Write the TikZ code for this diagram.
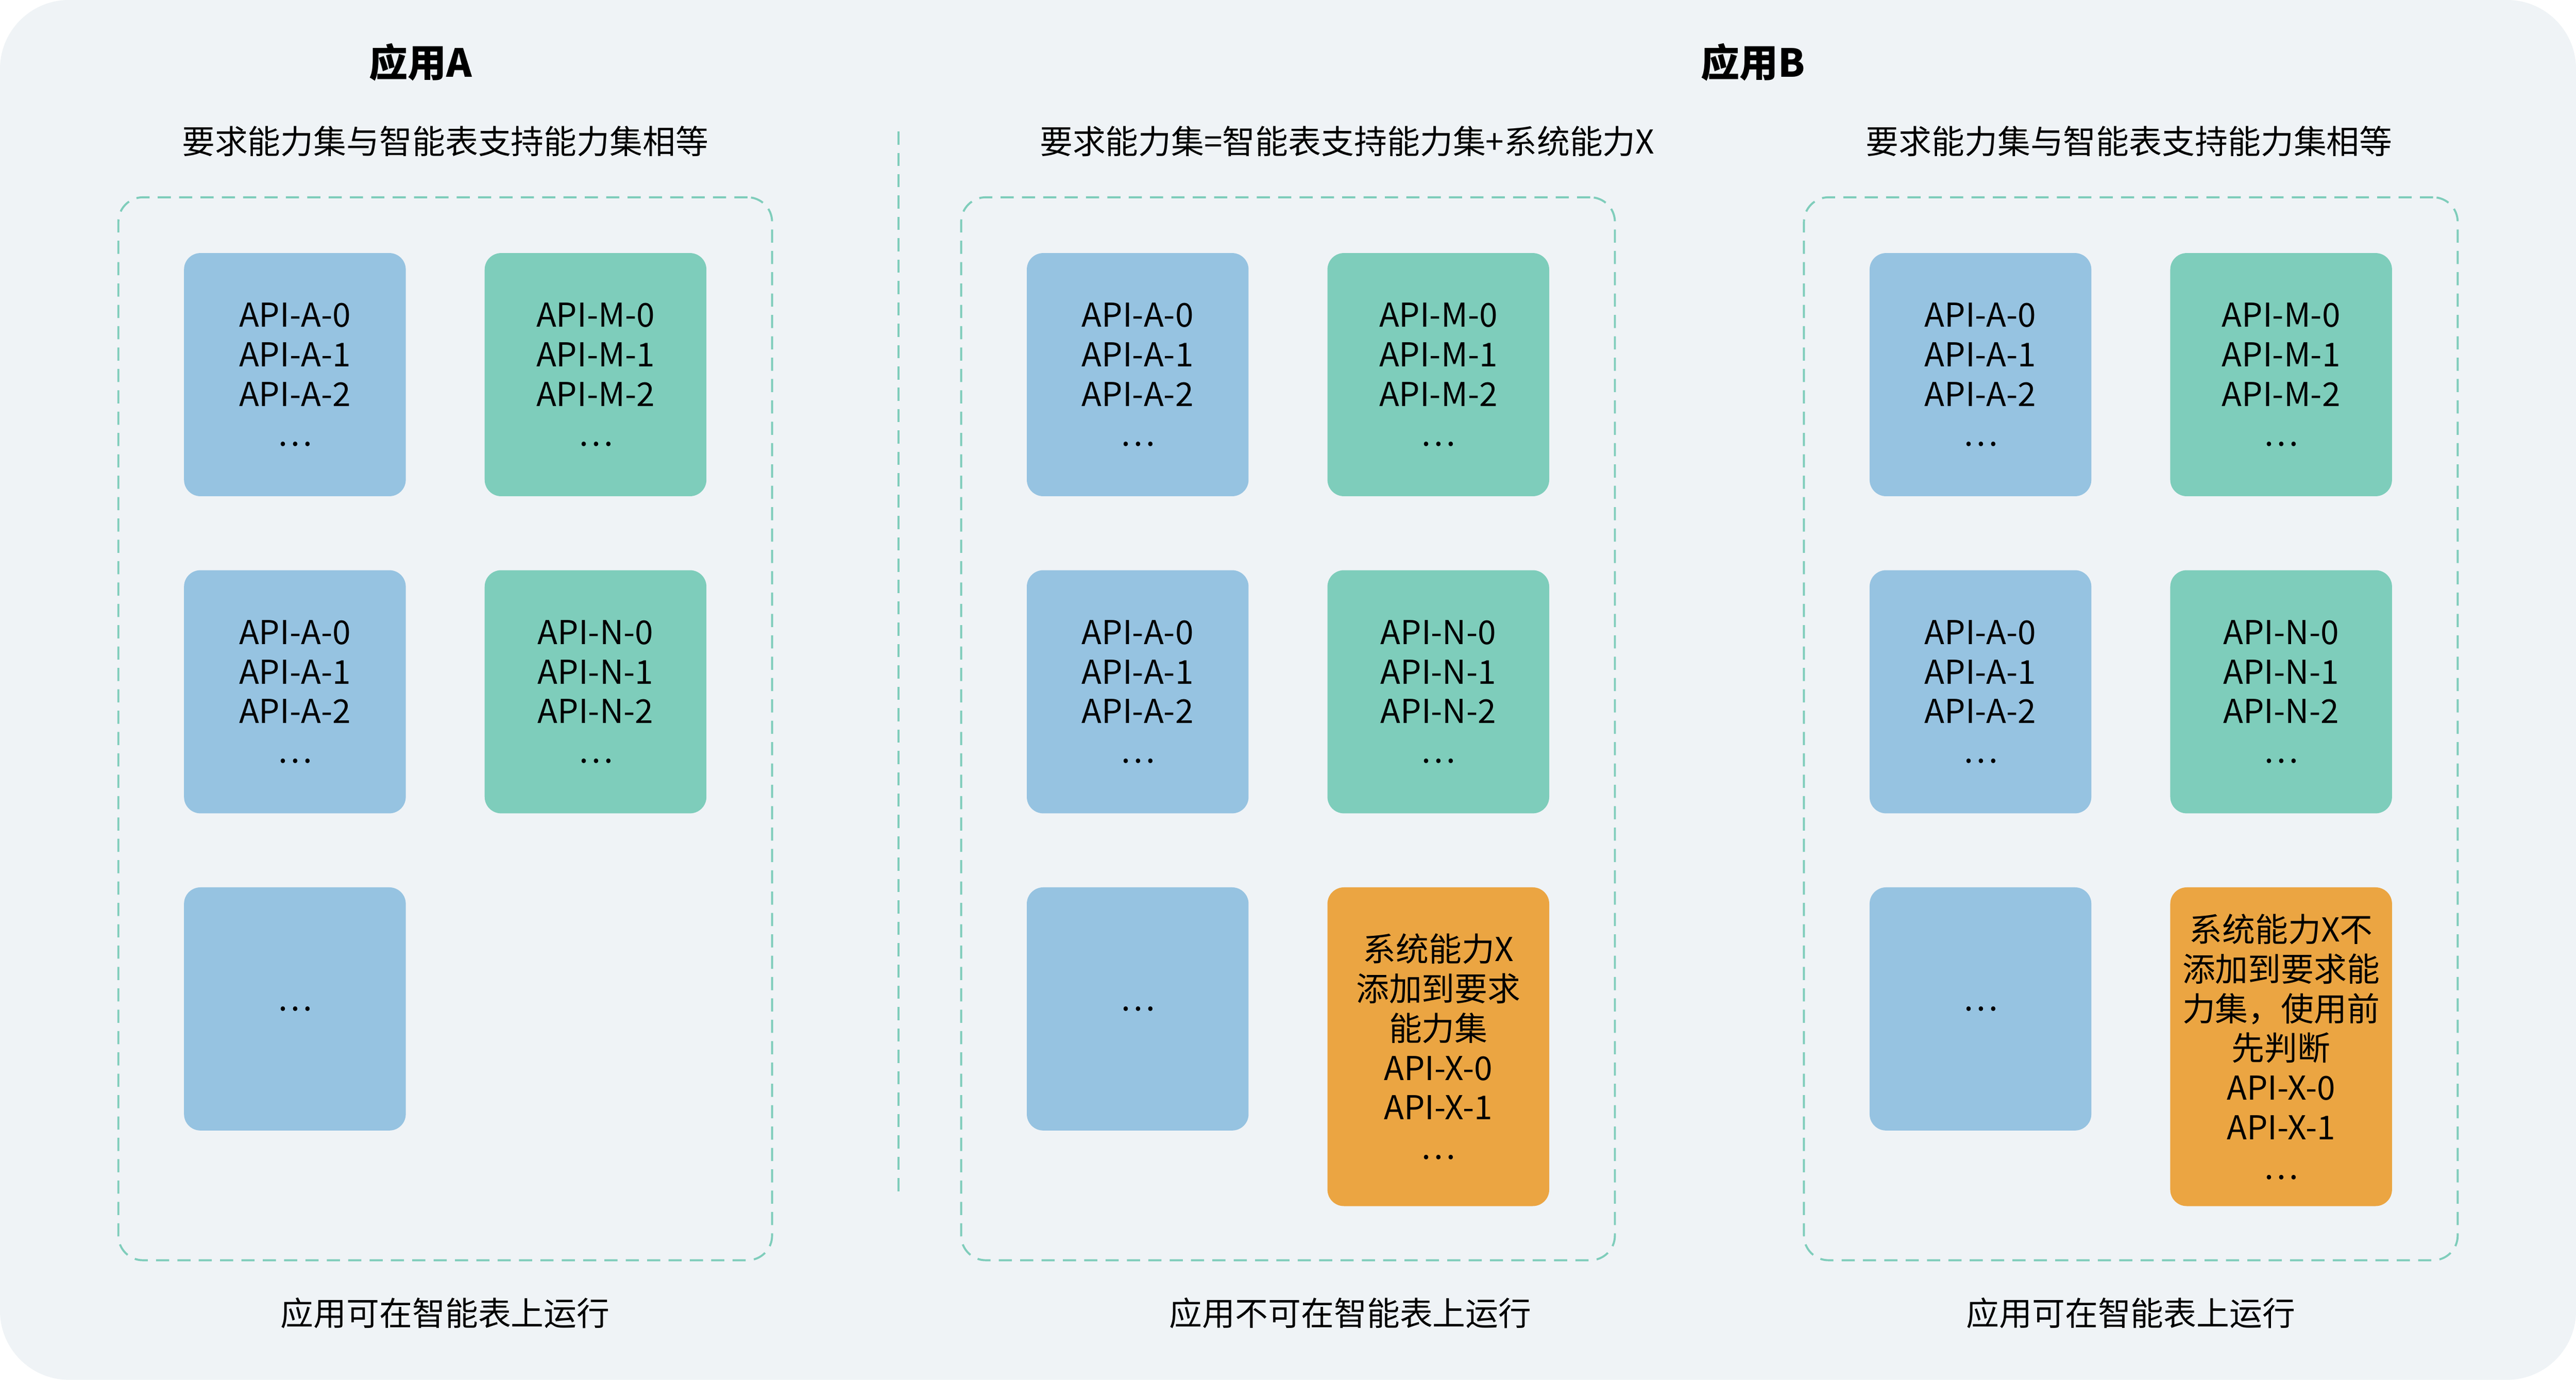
\documentclass[tikz,border=0pt]{standalone}
\usepackage{fontspec}
\setmainfont{Noto Sans CJK SC}
\definecolor{bgcol}{HTML}{EFF3F6}
\definecolor{apiblue}{HTML}{96C3E1}
\definecolor{apigreen}{HTML}{7ECDBB}
\definecolor{apiorange}{HTML}{EBA542}
\definecolor{dashgreen}{HTML}{7FCDBB}

\begin{document}
\begin{tikzpicture}[x = 0.02cm, y = -0.02cm,
    every node/.style = {font = \fontsize{11.4}{13.7}\selectfont, align = center, inner sep = 0pt},
    titletext/.style = {font = \fontsize{13.4}{15}\selectfont\bfseries},
    apibox/.style = {rounded corners = 0.2cm, minimum width = 2.7cm, minimum height = 2.96cm},
    panel/.style = {draw = dashgreen, line width = 0.7pt, dash pattern = on 0.16cm off 0.1cm,
                    rounded corners = 0.3cm, minimum width = 7.96cm, minimum height = 12.94cm},
    divline/.style = {draw = dashgreen, line width = 0.7pt, dash pattern = on 0.16cm off 0.1cm}]

      \useasboundingbox (0,0) rectangle (1568,839.7);
      \fill [white] (0,0) rectangle (1568,839.7);
      \fill [bgcol, rounded corners = 0.84cm] (0,0) rectangle (1568,839.7);

      % titles
      \node [titletext] (titleA) at (256,38) {应用A};
      \node [titletext] (titleB) at (1067,38) {应用B};

      \node (reqA) at (271,86) {要求能力集与智能表支持能力集相等};
      \node (reqB) at (820,86) {要求能力集=智能表支持能力集+系统能力X};
      \node (reqC) at (1296,86) {要求能力集与智能表支持能力集相等};

      \coordinate (divtop) at (547,80);
      \coordinate (divbot) at (547,726);
      \draw [divline] (divtop) -- (divbot);

      % the three panels
      \foreach \p/\x in {A/72, B/585, C/1098}{
          \node [panel] (panel\p) at (\x+199,443.5) {};
          \node [apibox, fill = apiblue]  (aa\p) at (\x+107.5,228) {API-A-0\\API-A-1\\API-A-2\\…};
          \node [apibox, fill = apigreen] (mm\p) at (\x+290.5,228) {API-M-0\\API-M-1\\API-M-2\\…};
          \node [apibox, fill = apiblue]  (ab\p) at (\x+107.5,421) {API-A-0\\API-A-1\\API-A-2\\…};
          \node [apibox, fill = apigreen] (nn\p) at (\x+290.5,421) {API-N-0\\API-N-1\\API-N-2\\…};
          \node [apibox, fill = apiblue]  (etc\p) at (\x+107.5,614) {…};
        }

      \node [apibox, fill = apiorange, minimum height = 3.88cm] (xxB) at (875.5,637)
            {系统能力X\\添加到要求\\能力集\\API-X-0\\API-X-1\\…};
      \node [apibox, fill = apiorange, minimum height = 3.88cm] (xxC) at (1388.5,637)
            {系统能力X不\\添加到要求能\\力集，使用前\\先判断\\API-X-0\\API-X-1\\…};

      % results
      \node (runA) at (271,799) {应用可在智能表上运行};
      \node (runB) at (822,799) {应用不可在智能表上运行};
      \node (runC) at (1297,799) {应用可在智能表上运行};

\end{tikzpicture}
\end{document}
